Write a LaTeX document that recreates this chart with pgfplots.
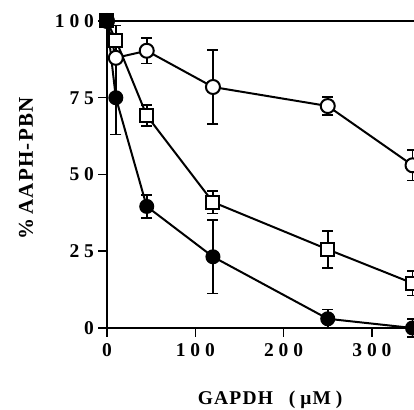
\documentclass[border=0pt]{standalone}
\usepackage{fontspec}
\setmainfont{Liberation Serif}
\newfontfamily\tickfont[LetterSpace=25]{Liberation Serif}
\newfontfamily\labfont[LetterSpace=6]{Liberation Serif}
\usepackage{pgfplots}
\pgfplotsset{compat=1.18}

\begin{document}
\begin{tikzpicture}
% the reference is cut at the right edge, so the page ends there
\useasboundingbox (-107pt,-81pt) rectangle (307pt,328pt);
\begin{axis}[
    scale only axis, width=353.2pt, height=307pt,
    at={(0pt,0pt)}, anchor=south west,
    xmin=0, xmax=400, ymin=0, ymax=100,
    xtick={0,100,200,300}, ytick={0,25,50,75,100},
    tick pos=left, tick align=outside,
    major tick length=8.5pt,
    tick style={line width=1.5pt, black},
    axis line style={line width=1.8pt},
    /pgf/number format/assume math mode=true,
    ticklabel style={font=\tickfont\bfseries\fontsize{19.5}{19.5}\selectfont},
    xticklabel style={yshift=-3pt},
    yticklabel style={xshift=-1pt},
    xlabel={GAPDH\hspace{16pt}(\hspace{5pt}μ\hspace{1pt}M\hspace{5pt})},
    xlabel style={font=\labfont\bfseries\fontsize{19.5}{19.5}\selectfont,
        at={(axis description cs:0.462,0)}, anchor=base, yshift=-76pt},
    ylabel={\%\,AAPH-PBN},
    ylabel style={font=\labfont\bfseries\fontsize{21}{21}\selectfont,
        at={(axis description cs:0,0.52)}, anchor=base, yshift=74pt},
    clip=false,
    every axis plot/.append style={line width=2pt, black},
    error bars/error bar style={line width=1.6pt},
    error bars/error mark options={line width=1.6pt, mark size=5.5pt, rotate=90},
]
% open circles
\addplot[mark=*, mark options={fill=white, mark size=7pt},
    error bars/.cd, y dir=both, y explicit]
    coordinates {
    (0,100) +- (0,0)
    (10,88) +- (0,0)
    (45,90.3) +- (0,4.2)
    (120,78.5) +- (0,12)
    (250,72.3) +- (0,3)
    (346,53) +- (0,5)
    };
% open squares
\addplot[mark=square*, mark options={fill=white, mark size=6.5pt},
    error bars/.cd, y dir=both, y explicit]
    coordinates {
    (0,100) +- (0,0)
    (10,93.8) +- (0,4.7)
    (45,69.2) +- (0,3.5)
    (120,41) +- (0,3.7)
    (250,25.6) +- (0,6)
    (346,14.6) +- (0,4)
    };
% filled circles
\addplot[mark=*, mark options={fill=black, mark size=6.5pt},
    error bars/.cd, y dir=both, y explicit]
    coordinates {
    (0,100) +- (0,0)
    (10,75) +- (0,12)
    (45,39.6) +- (0,3.8)
    (120,23.2) +- (0,12)
    (250,3) +- (0,3)
    (346,0) +- (0,3)
    };
% control point
\addplot[only marks, mark=square*, mark options={fill=black, mark size=6.5pt}]
    coordinates {(0,100)};
\end{axis}
\end{tikzpicture}
\end{document}
